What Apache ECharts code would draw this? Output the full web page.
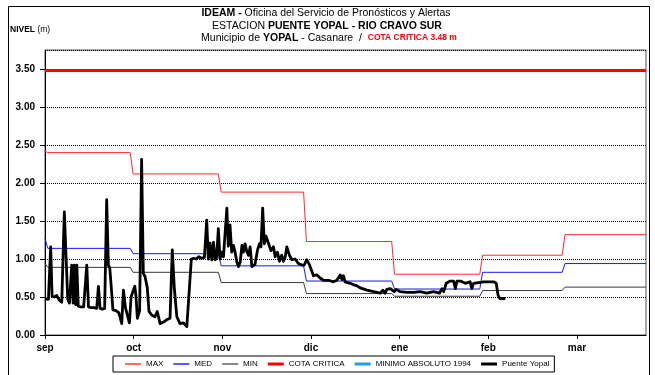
<!DOCTYPE html>
<html>
<head>
<meta charset="utf-8">
<script src="https://cdn.jsdelivr.net/npm/echarts@6/dist/echarts.min.js"></script>
<style>
  html, body { margin: 0; padding: 0; background: #fff; }
  #chart { width: 655px; height: 375px; }
</style>
</head>
<body>
<div id="chart"></div>
<script>
// x axis runs in days, day 0 = 31 Aug; month labels sit every 31.2 days
const monthLabels = ['sep', 'oct', 'nov', 'dic', 'ene', 'feb', 'mar'];
const labelStep = 31.2;
const xEnd = 211.5;

// first day of each reference period (31 Aug, then 1st of sep..mar)
const stepDays = [0, 1, 31, 62, 92, 123, 154, 183];
// historical monthly levels (m): last day of Aug, then sep..mar
const maxLevels = [2.42, 2.40, 2.12, 1.88, 1.23, 0.80, 1.05, 1.32];
const medLevels = [1.27, 1.14, 1.07, 0.91, 0.71, 0.605, 0.825, 0.94];
const minLevels = [0.94, 0.89, 0.825, 0.69, 0.545, 0.51, 0.585, 0.63];

const criticalLevel = 3.48;

// daily readings at Puente Yopal
const yopalDays = [
  0, 0.6, 1.2, 2.0, 2.5, 3.3, 4.1, 5.0, 5.9, 6.8, 8.0, 8.6, 9.4, 9.9, 10.3, 10.8, 11.2, 11.7,
  12.6, 13.6, 14.1, 14.7, 15.3, 16.2, 17.2, 18.2, 18.8, 19.4, 20.2, 21.0, 21.7, 22.3, 22.8, 23.3,
  23.9, 25.0, 26.0, 27.0, 27.6, 28.3, 29.0, 29.7, 30.3, 31.0, 31.6, 32.0, 32.5, 33.3, 34.0, 34.6,
  35.2, 36.0, 36.6, 37.6, 38.7, 39.5, 40.5, 41.7, 42.8, 44.0, 44.8, 45.5, 46.4, 47.5, 48.7, 49.9,
  50.7, 51.5, 52.3, 53.2, 54.1, 55.0, 56.1, 56.9, 57.5, 58.1, 58.7, 59.3, 59.9, 60.4, 61.0, 61.6,
  62.2, 62.8, 64.0, 64.5, 65.1, 65.7, 66.3, 66.9, 67.5, 68.1, 68.7, 69.3, 69.8, 70.4, 71.0, 71.6,
  72.2, 72.8, 73.9, 74.8, 75.5, 76.0, 76.6, 77.2, 77.8, 78.6, 79.5, 80.4, 81.0, 81.8, 82.5, 83.3,
  83.9, 84.5, 85.1, 86.0, 86.9, 88.0, 89.2, 90.4, 91.2, 92.1, 93.0, 93.9, 94.5, 95.7, 96.8, 98.0,
  99.8, 101.5, 102.7, 103.3, 103.9, 104.5, 105.0, 105.6, 107.4, 108.6, 109.7, 110.9, 113.3, 115.6,
  118.0, 118.9, 119.7, 120.3, 121.5, 122.1, 122.9, 123.6, 125.0, 127.4, 129.7, 132.0, 134.4, 136.7,
  138.8, 139.7, 140.3, 141.2, 142.6, 143.8, 144.4, 145.0, 146.2, 147.9, 149.6, 150.2, 150.8, 152.6,
  154.3, 157.9, 158.8, 159.4, 160.0, 162.0
];
const yopalLevels = [
  0.48, 0.50, 0.47, 1.16, 0.51, 0.50, 0.52, 0.46, 0.43, 1.62, 0.47, 0.42, 0.92, 0.42, 0.92, 0.40, 0.92, 0.38,
  0.37, 0.37, 0.38, 0.92, 0.37, 0.36, 0.36, 0.35, 0.64, 0.35, 0.34, 0.35, 1.78, 0.92, 0.88, 0.64,
  0.33, 0.32, 0.29, 0.15, 0.59, 0.36, 0.34, 0.16, 0.50, 0.58, 0.64, 0.52, 0.22, 0.32, 2.31, 0.81,
  0.77, 0.62, 0.31, 0.26, 0.24, 0.31, 0.15, 0.17, 0.20, 0.22, 1.12, 0.62, 0.24, 0.15, 0.16, 0.11,
  0.55, 1.00, 1.01, 1.00, 1.03, 1.01, 1.02, 1.51, 1.00, 1.21, 0.99, 1.22, 0.99, 1.02, 1.40, 1.00,
  1.09, 1.03, 1.67, 1.17, 1.45, 1.09, 1.18, 1.09, 0.96, 0.90, 0.96, 1.18, 1.09, 1.20, 1.10, 1.05,
  1.16, 0.90, 0.93, 1.12, 1.20, 1.16, 1.67, 1.20, 1.30, 1.21, 1.11, 1.16, 1.03, 1.09, 0.97, 1.05,
  0.97, 1.02, 1.16, 1.05, 0.99, 1.00, 0.94, 0.92, 0.92, 0.99, 0.93, 0.84, 0.78, 0.79, 0.75, 0.72,
  0.72, 0.70, 0.72, 0.73, 0.79, 0.73, 0.78, 0.70, 0.68, 0.66, 0.65, 0.62, 0.59, 0.57,
  0.55, 0.59, 0.55, 0.60, 0.61, 0.63, 0.57, 0.60, 0.57, 0.56, 0.56, 0.57, 0.55, 0.57,
  0.55, 0.61, 0.57, 0.68, 0.71, 0.71, 0.61, 0.71, 0.71, 0.68, 0.70, 0.61, 0.68, 0.69,
  0.70, 0.70, 0.68, 0.53, 0.48, 0.48
];

// monthly level held flat across each period, with a one-day ramp between periods
function stepLine(levels) {
  const pts = [];
  levels.forEach((v, i) => {
    const start = stepDays[i];
    const end = i + 1 < stepDays.length ? stepDays[i + 1] - 1 : xEnd;
    pts.push([start, v], [end, v]);
  });
  return pts;
}

const FONT = "'Liberation Sans', Arial, sans-serif";
const thinIcon = 'path://M0,0M0,4.3h16v1.4h-16zM16,10';
const thickIcon = 'path://M0,0M0,3.5h16v3h-16zM16,10';

const chart = echarts.init(document.getElementById('chart'), null, { renderer: 'canvas' });
chart.setOption({
  animation: false,
  backgroundColor: '#fff',
  textStyle: { fontFamily: FONT },
  grid: {
    left: 45, right: 9, top: 50, bottom: 40,
    show: true, borderColor: '#555', borderWidth: 1,
    outerBoundsMode: 'none'
  },
  graphic: [
    {
      type: 'rect', silent: true, z: -10,
      shape: { x: 8.5, y: 6.5, width: 641, height: 380 },
      style: { fill: 'none', stroke: '#000', lineWidth: 1 }
    },
    {
      type: 'text', silent: true,
      style: {
        x: 326, y: 13, align: 'center', verticalAlign: 'middle',
        text: '{b|IDEAM -} Oficina del Servicio de Pronósticos y Alertas',
        fontSize: 10.5, fontFamily: FONT, fill: '#000',
        rich: { b: { fontWeight: 'bold', fontSize: 10.5, fontFamily: FONT } }
      }
    },
    {
      type: 'text', silent: true,
      style: {
        x: 327, y: 26, align: 'center', verticalAlign: 'middle',
        text: 'ESTACION {b|PUENTE YOPAL - RIO CRAVO SUR}',
        fontSize: 10.5, fontFamily: FONT, fill: '#000',
        rich: { b: { fontWeight: 'bold', fontSize: 10.5, fontFamily: FONT } }
      }
    },
    {
      type: 'text', silent: true,
      style: {
        x: 329, y: 38, align: 'center', verticalAlign: 'middle',
        text: 'Municipio de {b|YOPAL} - Casanare  /  {r|COTA CRITICA 3.48 m}',
        fontSize: 10.5, fontFamily: FONT, fill: '#000',
        rich: {
          b: { fontWeight: 'bold', fontSize: 10.5, fontFamily: FONT },
          r: { fontWeight: 'bold', fontSize: 8.5, fontFamily: FONT, fill: '#ff0000' }
        }
      }
    },
    {
      type: 'text', silent: true,
      style: {
        x: 10, y: 30, align: 'left', verticalAlign: 'middle',
        text: '{b|NIVEL} (m)',
        fontSize: 8.5, fontFamily: FONT, fill: '#000',
        rich: { b: { fontWeight: 'bold', fontSize: 8.5, fontFamily: FONT } }
      }
    }
  ],
  legend: {
    left: 113, top: 356,
    padding: [3, 5, 3, 12],
    itemWidth: 16, itemHeight: 10, itemGap: 10,
    backgroundColor: '#fff', borderColor: '#000', borderWidth: 1, borderRadius: 0,
    symbolKeepAspect: false,
    itemStyle: { borderWidth: 0 },
    textStyle: { fontSize: 8, fontFamily: FONT, color: '#000' },
    data: [
      { name: 'MAX', icon: thinIcon },
      { name: 'MED', icon: thinIcon },
      { name: 'MIN', icon: thinIcon },
      { name: 'COTA CRITICA', icon: thickIcon },
      { name: 'MINIMO ABSOLUTO 1994', icon: thickIcon },
      { name: 'Puente Yopal', icon: thickIcon }
    ]
  },
  xAxis: {
    type: 'value',
    min: 0, max: xEnd, interval: labelStep,
    axisLine: { show: true, onZero: false, lineStyle: { color: '#000', width: 1 } },
    axisTick: { show: true, inside: false, length: 4, lineStyle: { color: '#000' } },
    splitLine: { show: false },
    axisLabel: {
      margin: 8, fontSize: 10, fontWeight: 'bold', color: '#000', fontFamily: FONT,
      showMaxLabel: false,
      formatter: v => monthLabels[Math.round(v / labelStep)] || ''
    }
  },
  yAxis: {
    type: 'value',
    min: 0, max: 3.75, interval: 0.5,
    axisLine: { show: true, lineStyle: { color: '#000', width: 1 } },
    axisTick: { show: true, inside: false, length: 5, lineStyle: { color: '#000' } },
    splitLine: { show: true, lineStyle: { color: '#000', width: 1, type: [1, 1] } },
    axisLabel: {
      margin: 10, fontSize: 10, fontWeight: 'bold', color: '#000', fontFamily: FONT,
      showMaxLabel: false,
      formatter: v => v.toFixed(2)
    }
  },
  series: [
    {
      name: 'MAX', type: 'line', symbol: 'none', z: 3,
      data: stepLine(maxLevels),
      itemStyle: { color: '#ff2a2a' },
      lineStyle: { color: '#ff2a2a', width: 1 }
    },
    {
      name: 'MED', type: 'line', symbol: 'none', z: 3,
      data: stepLine(medLevels),
      itemStyle: { color: '#1515ff' },
      lineStyle: { color: '#1515ff', width: 1 }
    },
    {
      name: 'MIN', type: 'line', symbol: 'none', z: 3,
      data: stepLine(minLevels),
      itemStyle: { color: '#555555' },
      lineStyle: { color: '#3a3a3a', width: 1 }
    },
    {
      name: 'COTA CRITICA', type: 'line', symbol: 'none', z: 4,
      data: [[0, criticalLevel], [xEnd, criticalLevel]],
      itemStyle: { color: '#ff0000' },
      lineStyle: { color: '#ff0000', width: 3 }
    },
    {
      name: 'MINIMO ABSOLUTO 1994', type: 'line', symbol: 'none', z: 4,
      data: [],
      itemStyle: { color: '#1ba1dc' },
      lineStyle: { color: '#1ba1dc', width: 3 }
    },
    {
      name: 'Puente Yopal', type: 'line', symbol: 'none', z: 5,
      data: yopalDays.map((d, i) => [d, yopalLevels[i]]),
      itemStyle: { color: '#000' },
      lineStyle: { color: '#000', width: 2.8, join: 'round' }
    }
  ]
});
</script>
</body>
</html>
